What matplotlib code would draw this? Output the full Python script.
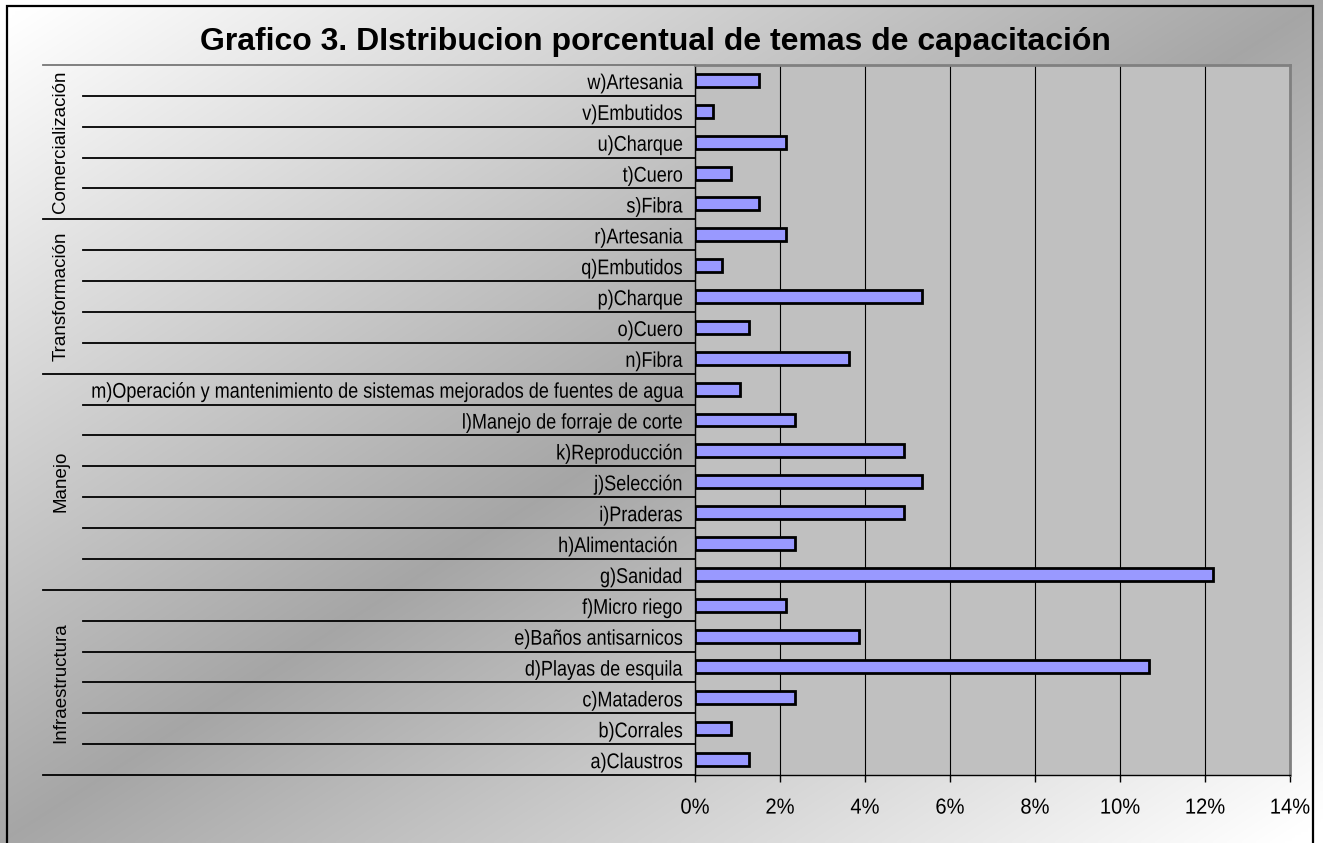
import numpy as np
import matplotlib
matplotlib.use("Agg")
import matplotlib.pyplot as plt
import matplotlib.transforms as mtransforms
from matplotlib.patches import Rectangle
from matplotlib.patheffects import AbstractPathEffect
from matplotlib.ticker import FuncFormatter

plt.rcParams['font.family'] = ['Liberation Sans', 'DejaVu Sans']


class TallText(AbstractPathEffect):
    """Draw glyphs stretched vertically (condensed look)."""

    def __init__(self, sy=1.18):
        super().__init__()
        self._sy = sy

    def draw_path(self, renderer, gc, tpath, affine, rgbFace=None):
        stretch = mtransforms.Affine2D().scale(1.0, self._sy)
        renderer.draw_path(gc, tpath, stretch + affine, rgbFace)


# Training topics (bottom to top) and their share of the total, in percent
temas = [
    "a)Claustros", "b)Corrales", "c)Mataderos", "d)Playas de esquila",
    "e)Baños antisarnicos", "f)Micro riego",
    "g)Sanidad", "h)Alimentación ", "i)Praderas", "j)Selección",
    "k)Reproducción", "l)Manejo de forraje de corte",
    "m)Operación y mantenimiento de sistemas mejorados de fuentes de agua",
    "n)Fibra", "o)Cuero", "p)Charque", "q)Embutidos", "r)Artesania",
    "s)Fibra", "t)Cuero", "u)Charque", "v)Embutidos", "w)Artesania",
]
porcentajes = [
    1.28, 0.85, 2.35, 10.68, 3.85, 2.14,
    12.18, 2.35, 4.91, 5.34, 4.91, 2.35, 1.07,
    3.63, 1.28, 5.34, 0.64, 2.14,
    1.50, 0.85, 2.14, 0.43, 1.50,
]
# Topic groups: name and number of topics in each (bottom to top)
grupos = ["Infraestructura", "Manejo", "Transformación", "Comercialización"]
tamanos_grupo = [6, 7, 5, 5]
x_ticks = [0, 2, 4, 6, 8, 10, 12, 14]

titulo = "Grafico 3. DIstribucion porcentual de temas de capacitación"

W, H = 1323, 843
fig = plt.figure(figsize=(W / 100, H / 100), dpi=100)

# Diagonal background: light at the corners, darker along the anti-diagonal
bg = fig.add_axes([0, 0, 1, 1], zorder=-10)
xx, yy = np.meshgrid(np.linspace(0, 1, 400), np.linspace(0, 1, 260))
t = (xx + yy) / 2.0
g = np.clip(0.65 + 0.72 * np.abs(t - 0.5), 0, 1)
bg.imshow(np.dstack([g, g, g]), aspect='auto', extent=[0, 1, 0, 1],
          origin='upper', interpolation='bilinear')
bg.set_axis_off()

# Outer chart frame
fig.patches.append(Rectangle((7 / W, -0.05), (1313 - 7) / W, 1.05 - 6 / H,
                             transform=fig.transFigure, fill=False,
                             edgecolor='black', linewidth=1.6, zorder=5))

left, right = 695 / W, 1290 / W
bottom, top = 1 - 775 / H, 1 - 65 / H
ax = fig.add_axes([left, bottom, right - left, top - bottom])
ax.set_facecolor('#C0C0C0')

y = np.arange(len(temas))
ax.barh(y, porcentajes, height=0.42, color='#9999FF', edgecolor='black',
        linewidth=2, zorder=3)

ax.set_xlim(0, 14)
ax.set_ylim(-0.5, len(temas) - 0.5)
ax.set_xticks(x_ticks)
ax.xaxis.set_major_formatter(FuncFormatter(lambda v, p: f"{v:.0f}%"))
ax.tick_params(axis='x', length=5, width=1, pad=12, labelsize=14.5,
               color='black')
ax.set_yticks(y)
ax.set_yticklabels(temas, fontsize=13)
ax.tick_params(axis='y', length=0, pad=9)
ax.grid(axis='x', color='black', linewidth=0.8, zorder=1)
ax.set_axisbelow(True)

# Category labels: slightly tall glyphs, nudged down to stay centred
nudge = mtransforms.ScaledTranslation(0, -1.5 / 72, fig.dpi_scale_trans)
for lbl in ax.get_yticklabels():
    lbl.set_path_effects([TallText(1.18)])
    lbl.set_transform(lbl.get_transform() + nudge)
for lbl in ax.get_xticklabels():
    lbl.set_path_effects([TallText(1.08)])

for s in ['top', 'right']:
    ax.spines[s].set_color('#808080')
    ax.spines[s].set_linewidth(2)
ax.spines['left'].set_color('black')
ax.spines['left'].set_linewidth(1)
ax.spines['bottom'].set_color('black')
ax.spines['bottom'].set_linewidth(1)

# Category separators on the left label area
trans = mtransforms.blended_transform_factory(fig.transFigure, ax.transData)
bordes_grupo = np.cumsum([0] + tamanos_grupo) - 0.5
x_item, x_grupo = 83 / W, 43 / W
for b in np.arange(-0.5, len(temas), 1.0):
    es_grupo = np.any(np.isclose(bordes_grupo, b))
    x0 = x_grupo if es_grupo else x_item
    color = '#777777' if np.isclose(b, len(temas) - 0.5) else 'black'
    ax.plot([x0, left], [b, b], transform=trans, color=color,
            linewidth=1.3, clip_on=False, zorder=4)

# Group names, rotated
for nombre, b0, b1 in zip(grupos, bordes_grupo[:-1], bordes_grupo[1:]):
    ax.text(61 / W, (b0 + b1) / 2, nombre, transform=trans, rotation=90,
            ha='center', va='center', fontsize=13.5)

fig.text(655 / W, 1 - 42 / H, titulo, ha='center', va='center',
         fontsize=23, fontweight='bold')

fig.savefig("out.png", dpi=100)
